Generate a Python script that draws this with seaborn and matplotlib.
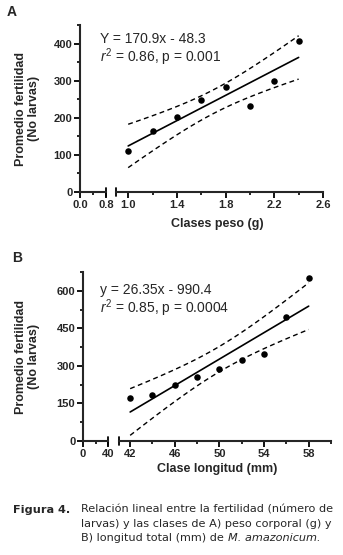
import matplotlib
matplotlib.use("Agg")
import matplotlib.pyplot as plt
import numpy as np
import pandas as pd
import seaborn as sns

# Panel A: fertility by weight class
peso = [1.0, 1.2, 1.4, 1.6, 1.8, 2.0, 2.2, 2.4]
fert_peso = [111, 165, 202, 249, 283, 231, 299, 407]

# Panel B: fertility by length class
longitud = [42, 44, 46, 48, 50, 52, 54, 56, 58]
fert_long = [172, 184, 225, 256, 288, 324, 348, 495, 653]

eq_a = ["Y = 170.9x - 48.3", r"$r^2$ = 0.86, p = 0.001"]
eq_b = ["y = 26.35x - 990.4", r"$r^2$ = 0.85, p = 0.0004"]

# two-sided 95% t values for n-2 degrees of freedom
t95 = {6: 2.447, 7: 2.365}

sns.set_style("ticks")
plt.rcParams['font.family'] = ['Liberation Sans', 'DejaVu Sans']
plt.rcParams['mathtext.fontset'] = 'custom'
plt.rcParams['mathtext.rm'] = 'Liberation Sans'
plt.rcParams['mathtext.it'] = 'Liberation Sans:italic'

W, H = 343, 555
fig = plt.figure(figsize=(W / 100, H / 100), dpi=100)


def px_rect(x0, x1, top, bottom):
    return [x0 / W, 1 - bottom / H, (x1 - x0) / W, (bottom - top) / H]


def px(x, y):
    return x / W, 1 - y / H


def fit_bands(x, y):
    x = np.asarray(x, float)
    y = np.asarray(y, float)
    n = len(x)
    b, a = np.polyfit(x, y, 1)
    resid = y - (a + b * x)
    s = np.sqrt((resid ** 2).sum() / (n - 2))
    sxx = ((x - x.mean()) ** 2).sum()
    xs = np.linspace(x.min(), x.max(), 100)
    fit = a + b * xs
    half = t95[n - 2] * s * np.sqrt(1 / n + (xs - x.mean()) ** 2 / sxx)
    return pd.DataFrame({'x': xs, 'fit': fit, 'lo': fit - half, 'hi': fit + half})


def style_ticks(ax):
    ax.tick_params(which='major', length=4, width=1.3, color='black', pad=1.5,
                   labelsize=8)
    ax.tick_params(which='minor', length=2.5, width=1.2, color='black')
    for lab in ax.get_xticklabels() + ax.get_yticklabels():
        lab.set_fontweight('bold')


def panel(small_rect, main_rect, x, y, small_lim, small_ticks, small_labels,
          small_minor, main_lim, main_ticks, main_minor, ylim, yticks, yminor,
          xlabel, xlabel_pos, eq, eq_pos, letter, letter_pos):
    ax0 = fig.add_axes(small_rect)
    ax1 = fig.add_axes(main_rect, sharey=ax0)

    df = pd.DataFrame({'x': x, 'y': y})
    bands = fit_bands(x, y)
    sns.lineplot(data=bands, x='x', y='fit', color='black', lw=1.2, ax=ax1)
    sns.lineplot(data=bands, x='x', y='lo', color='black', lw=1.0,
                 linestyle=(0, (3.5, 2.5)), ax=ax1)
    sns.lineplot(data=bands, x='x', y='hi', color='black', lw=1.0,
                 linestyle=(0, (3.5, 2.5)), ax=ax1)
    sns.scatterplot(data=df, x='x', y='y', color='black', s=22,
                    edgecolor='black', linewidth=0, ax=ax1, zorder=5)

    ax0.set_ylim(*ylim)
    ax0.set_yticks(yticks)
    ax0.set_yticks(yminor, minor=True)
    ax0.set_xlim(*small_lim)
    ax0.set_xticks(small_ticks)
    ax0.set_xticklabels(small_labels)
    ax0.set_xticks(small_minor, minor=True)
    ax1.set_xlim(*main_lim)
    ax1.set_xticks(main_ticks)
    ax1.set_xticklabels([str(v) for v in main_ticks])
    ax1.set_xticks(main_minor, minor=True)

    for ax in (ax0, ax1):
        ax.set_facecolor('none')
        ax.set_xlabel('')
        ax.set_ylabel('')
        for side in ['top', 'right']:
            ax.spines[side].set_visible(False)
        ax.spines['bottom'].set_linewidth(1.5)
        ax.spines['left'].set_linewidth(1.5)
        style_ticks(ax)
    ax1.spines['left'].set_visible(False)
    ax1.tick_params(axis='y', which='both', left=False, labelleft=False)

    # break marks at the cut of the x axis
    ax0.plot([1, 1], [-0.025, 0.025], transform=ax0.transAxes, color='black',
             lw=1.3, clip_on=False)
    ax1.plot([0, 0], [-0.025, 0.025], transform=ax1.transAxes, color='black',
             lw=1.3, clip_on=False)

    ylab_x, ylab_y = px(40, (1 - small_rect[1] - small_rect[3] / 2) * H)
    ax0.set_ylabel('Promedio fertilidad\n(No larvas)', fontsize=9,
                   fontweight='bold', linespacing=1.15)
    ax0.yaxis.set_label_coords(ylab_x, ylab_y, transform=fig.transFigure)

    fig.text(*px(*xlabel_pos), xlabel, fontsize=9, fontweight='bold',
             ha='center', va='center')
    fig.text(*px(*eq_pos), eq[0], fontsize=10, ha='left', va='center')
    fig.text(*px(eq_pos[0], eq_pos[1] + 18), eq[1], fontsize=10,
             ha='left', va='center')
    fig.text(*px(*letter_pos), letter, fontsize=10, fontweight='bold',
             ha='center', va='center')


panel(px_rect(80, 106, 25, 192), px_rect(116, 323, 25, 192), peso, fert_peso,
      (0, 0.8), [0, 0.8], ['0.0', '0.8'], [0.4],
      (0.9, 2.6), [1.0, 1.4, 1.8, 2.2, 2.6], [1.2, 1.6, 2.0, 2.4],
      (0, 450), [0, 100, 200, 300, 400], [50, 150, 250, 350, 450],
      'Clases peso (g)', (217, 224), eq_a, (100, 39), 'A', (12, 12))

panel(px_rect(83, 108, 272, 441), px_rect(119, 331, 272, 441), longitud,
      fert_long,
      (0, 40), [0, 40], ['0', '40'], [20],
      (41, 60), [42, 46, 50, 54, 58], [44, 48, 52, 56, 60],
      (0, 675), [0, 150, 300, 450, 600], [75, 225, 375, 525, 675],
      'Clase longitud (mm)', (217, 469), eq_b, (100, 290), 'B', (17, 258))

# caption
cap_font = dict(family='DejaVu Sans', fontsize=8.1, va='center')
fig.text(*px(13, 510), 'Figura 4.', fontweight='bold', ha='left', **cap_font)
fig.text(*px(81, 510), 'Relación lineal entre la fertilidad (número de',
         ha='left', **cap_font)
fig.text(*px(81, 524), 'larvas) y las clases de A) peso corporal (g) y',
         ha='left', **cap_font)
t_last = fig.text(*px(81, 538), 'B) longitud total (mm) de ', ha='left',
                  **cap_font)
fig.canvas.draw()
bb = t_last.get_window_extent()
fig.text(bb.x1 / W, 1 - 538 / H, 'M. amazonicum.', style='italic',
         ha='left', **cap_font)

plt.savefig('out.png', dpi=100)
